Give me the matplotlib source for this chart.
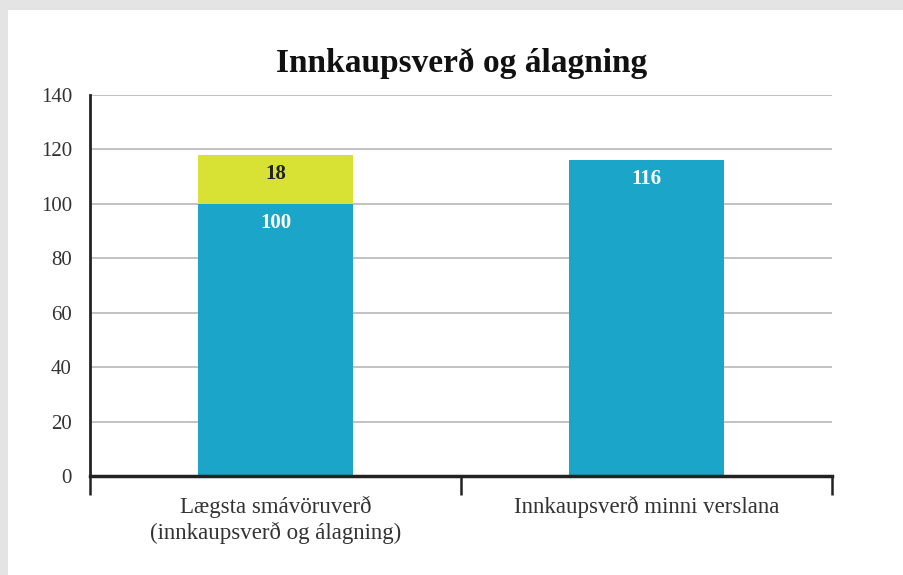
import matplotlib
matplotlib.use("Agg")
import matplotlib.pyplot as plt
from matplotlib.patches import Rectangle
import numpy as np

categories = ["Lægsta smávöruverð\n(innkaupsverð og álagning)", "Innkaupsverð minni verslana"]
base_values = [100, 116]       # innkaupsverð
markup_values = [18, 0]        # álagning
yticks = [0, 20, 40, 60, 80, 100, 120, 140]

BLUE = "#1ba5c8"
YELLOW = "#d8e235"
SERIF = ["Liberation Serif", "DejaVu Serif"]

plt.rcParams["font.family"] = SERIF

fig = plt.figure(figsize=(9.04, 5.75), dpi=100, facecolor="#e4e4e4")
# white card with a grey shadow on the top and left
fig.patches.append(Rectangle((8 / 904, 0), 1, (575 - 10) / 575, transform=fig.transFigure,
                             facecolor="white", edgecolor="none", zorder=-10))

ax = fig.add_axes([90 / 904, (575 - 476) / 575, (832 - 90) / 904, (476 - 95) / 575])
ax.set_facecolor("none")

x = np.arange(len(categories))
w = 0.42
ax.bar(x, base_values, width=w, color=BLUE, zorder=2)
ax.bar(x, markup_values, width=w, bottom=base_values, color=YELLOW, zorder=2)

for xi, b, m in zip(x, base_values, markup_values):
    ax.text(xi, b - 7, f"{b}", ha="center", va="center", color="white",
            fontsize=15, fontweight="bold", zorder=3)
    if m:
        ax.text(xi, b + m / 2 + 2, f"{m}", ha="center", va="center", color="#222222",
                fontsize=15, fontweight="bold", zorder=3)

ax.set_ylim(0, 140)
ax.set_xlim(-0.5, len(categories) - 0.5)
ax.set_yticks(yticks)
ax.yaxis.grid(True, color="#bdbdbd", linewidth=1.3, zorder=1)
ax.set_axisbelow(True)
ax.tick_params(axis="y", length=0, pad=13, labelsize=15, labelcolor="#333333")

# category ticks sit between groups, labels at the centres
ax.set_xticks(np.arange(len(categories) + 1) - 0.5)
ax.set_xticklabels([])
ax.set_xticks(x, minor=True)
ax.set_xticklabels(categories, minor=True, fontsize=16.5, color="#333333", linespacing=1.25)
ax.tick_params(axis="x", which="major", length=14, width=1.8, direction="out", color="#222222")
ax.tick_params(axis="x", which="minor", length=0, pad=14)

for s in ["top", "right"]:
    ax.spines[s].set_visible(False)
ax.spines["left"].set_linewidth(2)
ax.spines["left"].set_color("#222222")
ax.spines["bottom"].set_linewidth(2.5)
ax.spines["bottom"].set_color("#222222")

fig.text(0.511, 0.889, "Innkaupsverð og álagning", ha="center", va="center",
         fontsize=24, fontweight="bold", color="#111111")

fig.savefig("out.png", dpi=100, facecolor=fig.get_facecolor())
